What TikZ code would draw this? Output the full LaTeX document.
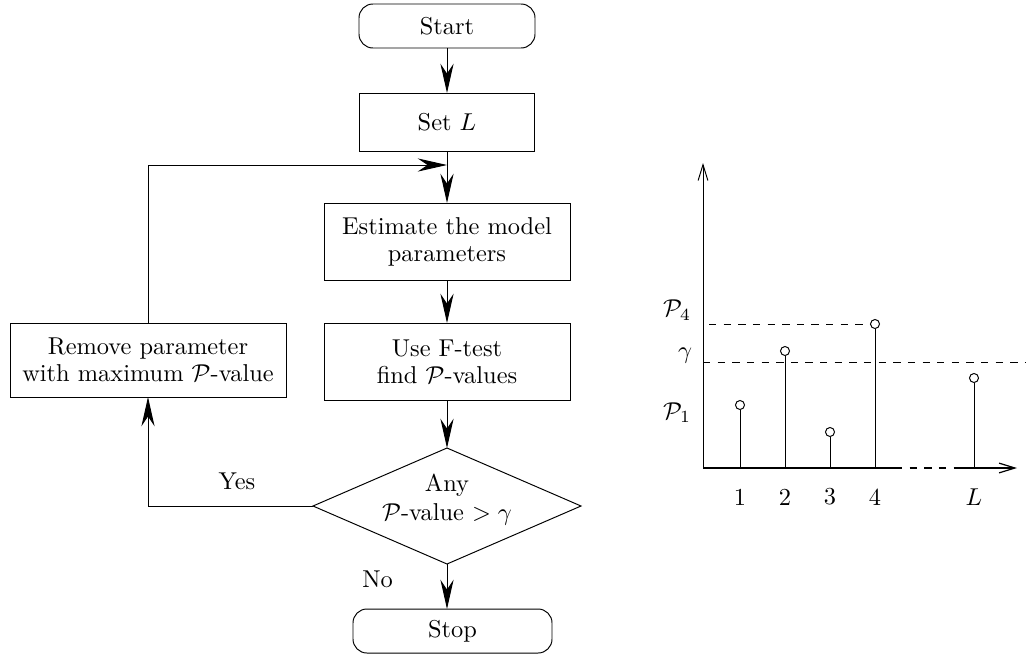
\documentclass[tikz,border=0pt]{standalone}
\usetikzlibrary{shapes.geometric,arrows.meta}
\begin{document}
\begin{tikzpicture}[x=0.41pt,y=-0.41pt,
  line width=0.4pt,
  box/.style={draw, rectangle, align=center, inner sep=0pt, outer sep=0pt},
  term/.style={box, rounded corners=5.7pt},
  decision/.style={draw, diamond, aspect=2.31, inner sep=0pt, outer sep=0pt,
    minimum width=268*0.41pt, minimum height=116*0.41pt},
  flow/.style={-{Stealth[length=12pt,width=5.4pt,inset=4pt]}},
  axisarrow/.style={-{Straight Barb[length=6.5pt,width=4pt]}},
  guide/.style={dashed},
  stemtop/.style={draw, circle, inner sep=0pt, outer sep=0pt, minimum size=3.7pt},
  lbl/.style={inner sep=0pt}
]
\useasboundingbox (0,0) rectangle (1026,655);

% ---------- flowchart ----------
\node[term, minimum width=176*0.41pt, minimum height=44*0.41pt] (start) at (447,26) {Start};
\node[box, minimum width=175*0.41pt, minimum height=58*0.41pt] (setL) at (447,122) {Set $L$};
\node[box, minimum width=246*0.41pt, minimum height=77*0.41pt] (est) at (447,241.5)
  {Estimate the model\\[-1pt] parameters};
\node[box, minimum width=246*0.41pt, minimum height=77*0.41pt] (ftest) at (447,361.5)
  {Use F-test\\[-1pt] find $\mathcal{P}$-values};
\node[box, minimum width=276*0.41pt, minimum height=74*0.41pt] (remove) at (148,360)
  {Remove parameter\\[-1pt] with maximum $\mathcal{P}$-value};
\node[decision] (any) at (447,506) {};
\node[lbl, align=center] (anytext) at (447,499.5) {Any\\ $\mathcal{P}$-value $>\gamma$};
\node[term, minimum width=199*0.41pt, minimum height=44*0.41pt] (stop) at (452.5,631) {Stop};

\node[lbl] (yes) at (237,481.5) {Yes};
\node[lbl] (no) at (377.5,579.5) {No};

\coordinate (join) at (447,165);

\draw[flow] (start) -- (setL);
\draw[flow] (setL) -- (est);
\draw[flow] (remove.north) |- (join);
\draw[flow] (est) -- (ftest);
\draw[flow] (ftest) -- (any);
\draw[flow] (any.west) -| (remove.south);
\draw[flow] (any.south) -- (any.south |- stop.north);

% ---------- stem plot ----------
\coordinate (O) at (703,468);
\coordinate (ytop) at (703,163);
\coordinate (gap1) at (895,468);
\coordinate (gap2) at (957,468);
\coordinate (xend) at (1017,468);

\draw[axisarrow] (O) -- (ytop);
\draw[line width=0.5pt] (O) -- (gap1);
\draw[guide, line width=0.5pt] (gap1) -- (gap2);
\draw[axisarrow, line width=0.5pt] (gap2) -- (xend);

\foreach \i/\x/\y in {1/740/405, 2/785/351, 3/830/432, 4/875/324, L/974/378}{
  \node[stemtop] (s\i) at (\x,\y) {};
  \draw (s\i) -- (s\i |- O);
}

\coordinate (p4a) at (709,324);
\draw[guide] (p4a) -- (s4);
\coordinate (ga) at (703,362);
\coordinate (gb) at (1026,362);
\draw[guide] (ga) -- (gb);

\node[lbl] (lp4) at (677,310) {$\mathcal{P}_4$};
\node[lbl] (lg) at (685,356) {$\gamma$};
\node[lbl] (lp1) at (677,412.5) {$\mathcal{P}_1$};

\node[lbl] (t1) at (740,497) {1};
\node[lbl] (t2) at (785,497) {2};
\node[lbl] (t3) at (830,497) {3};
\node[lbl] (t4) at (875,497) {4};
\node[lbl] (tL) at (974,497) {$L$};
\end{tikzpicture}
\end{document}
